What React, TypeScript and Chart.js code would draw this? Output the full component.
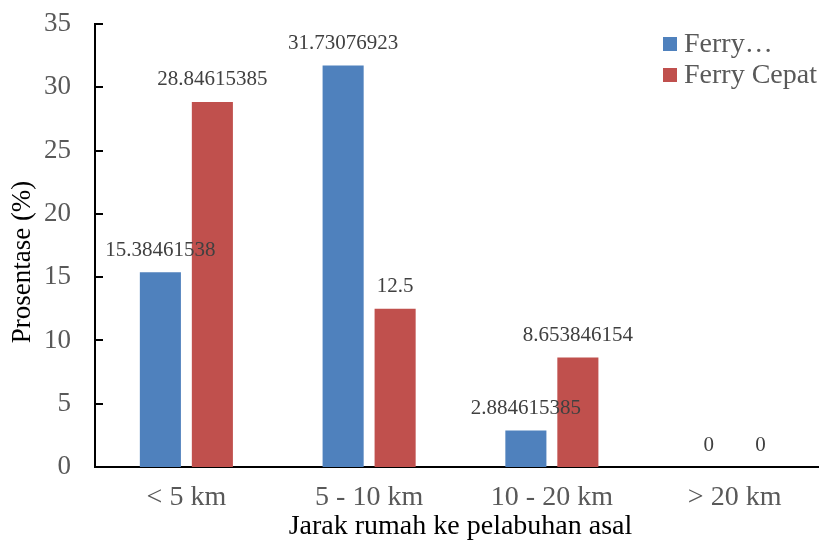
import React, { useEffect, useRef } from "react";
import { Chart, registerables } from "chart.js";

Chart.register(...registerables);

const categories = ["< 5 km", "5 - 10 km", "10 - 20 km", "> 20 km"];
const ferryValues = [15.38461538, 31.73076923, 2.884615385, 0];
const ferryCepatValues = [28.84615385, 12.5, 8.653846154, 0];
const seriesLabels = ["Ferry…", "Ferry Cepat"];
const yTitle = "Prosentase (%)";
const xTitle = "Jarak rumah ke pelabuhan asal";

const SERIF = "'Liberation Serif', 'Times New Roman', serif";
const BLUE = "#4F81BD";
const RED = "#C0504D";

// Value labels above each bar
const valueLabels = {
  id: "valueLabels",
  afterDatasetsDraw(chart: any) {
    const ctx = chart.ctx;
    ctx.save();
    ctx.font = `21px ${SERIF}`;
    ctx.fillStyle = "#404040";
    ctx.textAlign = "center";
    ctx.textBaseline = "middle";
    chart.data.datasets.forEach((ds: any, i: number) => {
      const meta = chart.getDatasetMeta(i);
      meta.data.forEach((el: any, j: number) => {
        ctx.fillText(String(ds.data[j]), el.x, el.y - 22);
      });
    });
    ctx.restore();
  },
};

// Short tick marks pointing into the plot on the value axis
const innerTicks = {
  id: "innerTicks",
  afterDraw(chart: any) {
    const y = chart.scales.y;
    const ctx = chart.ctx;
    ctx.save();
    ctx.strokeStyle = "#000";
    ctx.lineWidth = 2;
    y.ticks.forEach((t: any) => {
      const py = Math.round(y.getPixelForValue(t.value));
      ctx.beginPath();
      ctx.moveTo(y.right, py);
      ctx.lineTo(y.right + 8, py);
      ctx.stroke();
    });
    ctx.restore();
  },
};

// Rotated value-axis title, centred on the whole chart height
const valueAxisTitle = {
  id: "valueAxisTitle",
  afterDraw(chart: any) {
    const ctx = chart.ctx;
    ctx.save();
    ctx.font = `27px ${SERIF}`;
    ctx.fillStyle = "#000";
    ctx.textAlign = "center";
    ctx.textBaseline = "middle";
    ctx.translate(23, 262);
    ctx.rotate(-Math.PI / 2);
    ctx.fillText(yTitle, 0, 0);
    ctx.restore();
  },
};

// Legend in the upper-right corner of the plot
const cornerLegend = {
  id: "cornerLegend",
  afterDraw(chart: any) {
    const ctx = chart.ctx;
    ctx.save();
    ctx.font = `28px ${SERIF}`;
    ctx.textBaseline = "middle";
    ctx.textAlign = "left";
    chart.data.datasets.forEach((ds: any, i: number) => {
      const cy = 44 + i * 31;
      ctx.fillStyle = ds.backgroundColor;
      ctx.fillRect(663, cy - 7, 14, 14);
      ctx.fillStyle = "#595959";
      ctx.fillText(ds.label, 684, cy + 1);
    });
    ctx.restore();
  },
};

export default function App() {
  const ref = useRef<HTMLCanvasElement | null>(null);

  useEffect(() => {
    if (!ref.current) return;
    const chart = new Chart(ref.current, {
      type: "bar",
      data: {
        labels: categories,
        datasets: [
          { label: seriesLabels[0], data: ferryValues, backgroundColor: BLUE },
          { label: seriesLabels[1], data: ferryCepatValues, backgroundColor: RED },
        ],
      },
      options: {
        responsive: false,
        animation: false,
        devicePixelRatio: 1,
        layout: { padding: { top: 24, right: 0, left: 0, bottom: 0 } },
        datasets: {
          bar: { categoryPercentage: 0.569, barPercentage: 0.79 },
        },
        plugins: {
          legend: { display: false },
          tooltip: { enabled: false },
        },
        scales: {
          x: {
            grid: { display: false, drawTicks: false },
            border: { display: true, color: "#000", width: 2 },
            ticks: {
              color: "#595959",
              font: { family: SERIF, size: 28 },
              padding: 14,
            },
            title: {
              display: true,
              text: xTitle,
              color: "#000",
              font: { family: SERIF, size: 28 },
              padding: { top: 0, bottom: 0 },
            },
            afterFit(scale: any) {
              scale.height = 76;
              scale.paddingLeft = 0;
              scale.paddingRight = 0;
            },
          },
          y: {
            min: 0,
            max: 35,
            grid: { display: false, drawTicks: false },
            border: { display: true, color: "#000", width: 2 },
            ticks: {
              stepSize: 5,
              color: "#595959",
              font: { family: SERIF, size: 27 },
              padding: 24,
            },
            title: { display: false, text: yTitle },
            afterFit(scale: any) {
              scale.width = 95;
              scale.paddingTop = 0;
              scale.paddingBottom = 0;
            },
          },
        },
      },
      plugins: [valueLabels, innerTicks, valueAxisTitle, cornerLegend],
    });
    return () => chart.destroy();
  }, []);

  return (
    <div
      style={{
        position: "fixed",
        left: 0,
        top: 0,
        width: 819,
        height: 543,
        overflow: "hidden",
        background: "#fff",
      }}
    >
      <canvas ref={ref} width={826} height={543} style={{ width: 826, height: 543 }} />
    </div>
  );
}
